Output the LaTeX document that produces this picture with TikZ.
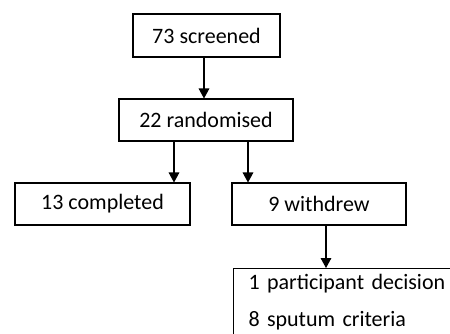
\documentclass[tikz,border=0pt]{standalone}
\usepackage{fontspec}
\setmainfont{Carlito}
\usepackage{tikz}
\usetikzlibrary{positioning,calc,backgrounds}
\usetikzlibrary{arrows,arrows.meta}
\pgfdeclarelayer{edgelayer}
\pgfdeclarelayer{nodelayer}
\pgfsetlayers{background,edgelayer,nodelayer,main}
\tikzstyle{none}=[inner sep=0mm]
\tikzstyle{flowbox}=[draw=black,line width=0.8pt,fill=white,inner sep=0pt,font=\fontsize{16.5}{27.75}\selectfont]
\tikzstyle{listbox}=[flowbox,anchor=north west,align=left,inner xsep=11.25pt,inner ysep=4pt,text width=170pt]
\tikzstyle{flowedge}=[line width=0.8pt,-{Triangle[length=7.5pt,width=8pt]}]

\begin{document}
\begin{tikzpicture}[x=0.75pt,y=-0.75pt]
	\useasboundingbox (0,0) rectangle (450,333);
	\begin{pgfonlayer}{nodelayer}
		\node [style=flowbox,minimum width=110.25pt,minimum height=32.25pt] (scr) at (206.5, 35.5) {73 screened};
		\node [style=flowbox,minimum width=130.5pt,minimum height=31.5pt] (rand) at (206, 120) {22 randomised};
		\node [style=flowbox,minimum width=131.25pt,minimum height=31.5pt] (comp) at (102.5, 204) {13 completed};
		\node [style=flowbox,minimum width=130.5pt,minimum height=31.5pt] (wd) at (319, 204) {9 withdrew};
		\node [style=listbox] (why) at (233, 268) {1 participant decision\\8 sputum criteria};
		\coordinate (s1) at (204, 57);
		\coordinate (r1) at (174, 141);
		\coordinate (r2) at (248, 141);
		\coordinate (w1) at (326, 225);
	\end{pgfonlayer}
	\begin{pgfonlayer}{edgelayer}
		\draw [style=flowedge] (s1) to (s1 |- rand.north);
		\draw [style=flowedge] (r1) to (r1 |- comp.north);
		\draw [style=flowedge] (r2) to (r2 |- wd.north);
		\draw [style=flowedge] (w1) to (w1 |- why.north);
	\end{pgfonlayer}
\end{tikzpicture}
\end{document}
